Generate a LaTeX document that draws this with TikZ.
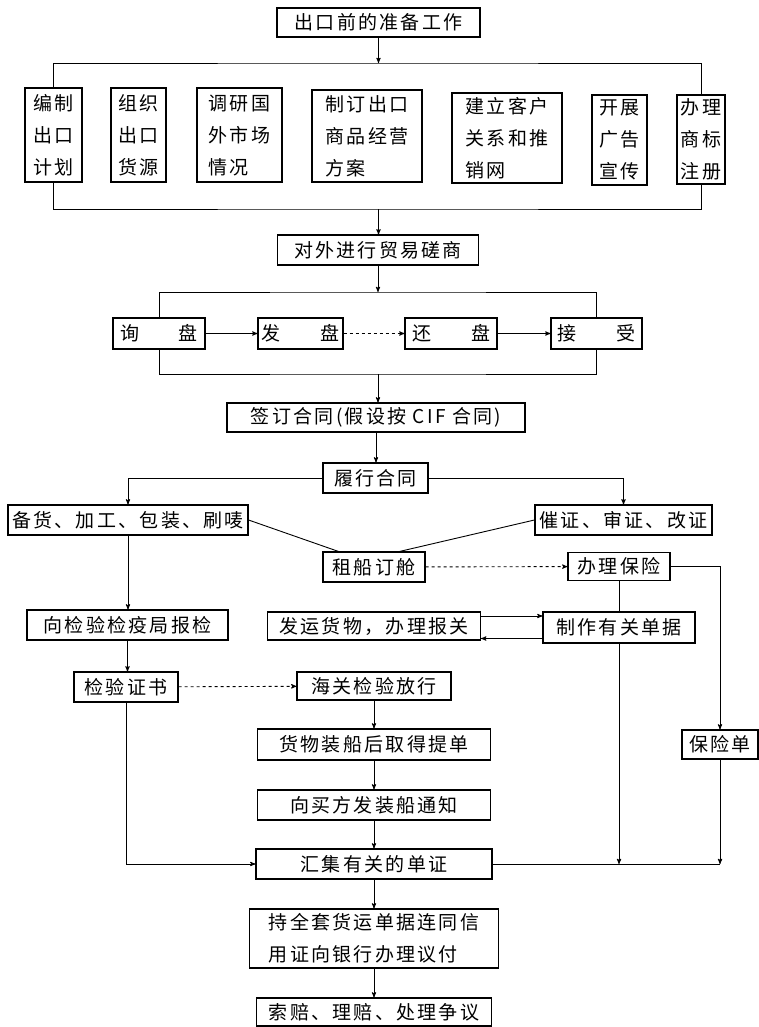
\documentclass[tikz,border=0pt]{standalone}
\usepackage{fontspec}
\usepackage{tikz}
\usetikzlibrary{arrows}
\newfontfamily\cjk[LetterSpace=12]{Noto Sans CJK SC}

\tikzset{
  stage/.style={draw, line width=1.1pt, inner sep=0pt,
    font=\cjk\fontsize{19}{32}\selectfont},
  multi/.style={stage, align=left},
  link/.style={line width=0.9pt},
  flow/.style={link, ->, >=stealth'},
}

\begin{document}
\begin{tikzpicture}[x=1pt, y=1pt]
\useasboundingbox (0,0) rectangle (759,-1027);

% Preparation before export
\node[stage, minimum width=203pt, minimum height=29pt] (prep) at (378.5,-22.5) {出口前的准备工作};
\node[multi, minimum width=57pt, minimum height=94pt] (plan) at (53.5,-135) {编制\\出口\\计划};
\node[multi, minimum width=55pt, minimum height=94pt] (supply) at (138.5,-135) {组织\\出口\\货源};
\node[multi, minimum width=85pt, minimum height=94pt] (survey) at (239.5,-135) {调研国\\外市场\\情况};
\node[multi, minimum width=110pt, minimum height=92pt] (scheme) at (367,-136) {制订出口\\商品经营\\方案};
\node[multi, minimum width=110pt, minimum height=90pt] (network) at (507,-138) {建立客户\\关系和推\\销网};
\node[multi, minimum width=55pt, minimum height=90pt] (advert) at (619.5,-140) {开展\\广告\\宣传};
\node[multi, minimum width=48pt, minimum height=89pt] (brand) at (701,-139.5) {办理\\商标\\注册};

\coordinate (topbar) at (378.5,-63);
\coordinate (midbar) at (378.5,-209);
\draw[flow] (prep) -- (topbar);
\draw[link] (plan.north) |- (topbar) -| (brand.north);
\draw[link] (plan.south) |- (midbar) -| (brand.south);

% Negotiation
\node[stage, minimum width=201pt, minimum height=30pt] (trade) at (378,-250) {对外进行贸易磋商};
\draw[flow] (midbar) -- (midbar |- trade.north);

\node[stage, minimum width=92pt, minimum height=31pt] (inquiry) at (159,-333.5) {询\hspace{40pt}盘};
\node[stage, minimum width=85pt, minimum height=31pt] (offer) at (300.5,-333.5) {发\hspace{40pt}盘};
\node[stage, minimum width=92pt, minimum height=31pt] (counter) at (451,-333.5) {还\hspace{40pt}盘};
\node[stage, minimum width=91pt, minimum height=31pt] (accept) at (596.5,-333.5) {接\hspace{40pt}受};

\coordinate (negbar) at (378,-292);
\coordinate (dealbar) at (378,-374);
\draw[flow] (trade) -- (negbar);
\draw[link] (inquiry.north) |- (negbar) -| (accept.north);
\draw[flow] (inquiry) -- (offer);
\draw[flow, dashed] (offer) -- (counter);
\draw[flow] (counter) -- (accept);
\draw[link] (inquiry.south) |- (dealbar) -| (accept.south);

\node[stage, minimum width=298pt, minimum height=29pt] (contract) at (376,-417.5) {签订合同(假设按 CIF 合同)};
\draw[flow] (dealbar) -- (dealbar |- contract.north);

% Performing the contract
\node[stage, minimum width=105pt, minimum height=30pt] (perform) at (375.5,-478) {履行合同};
\draw[flow] (contract.south) -- (contract.south |- perform.north);

\node[stage, minimum width=240pt, minimum height=30pt] (prepare) at (128,-520) {备货、加工、包装、刷唛};
\node[stage, minimum width=177pt, minimum height=30pt] (credit) at (623.5,-520) {催证、审证、改证};
\draw[flow] (perform.west) -| (prepare.north);
\draw[flow] (perform.east) -| (credit.north);

\node[stage, minimum width=102pt, minimum height=30pt] (ship) at (374,-567) {租船订舱};
\node[stage, minimum width=102pt, minimum height=28pt] (insure) at (619,-566.5) {办理保险};
\draw[link] (prepare.east) -- ([xshift=16pt]ship.north west);
\draw[link] (credit.west) -- ([xshift=-26pt]ship.north east);
\draw[flow, dashed] (ship) -- (insure);

\node[stage, minimum width=201pt, minimum height=30pt] (inspect) at (127.5,-625) {向检验检疫局报检};
\node[stage, minimum width=213pt, minimum height=28pt] (dispatch) at (374,-626) {发运货物，办理报关};
\node[stage, minimum width=152pt, minimum height=31pt] (docs) at (619,-627.5) {制作有关单据};
\draw[flow] (prepare.south) -- (prepare.south |- inspect.north);
\draw[link] (insure) -- (docs);
\draw[flow] ([yshift=10pt]dispatch.east) -- ([yshift=10pt]dispatch.east -| docs.west);
\draw[flow] ([yshift=-11pt]docs.west) -- ([yshift=-11pt]docs.west -| dispatch.east);

\node[stage, minimum width=104pt, minimum height=30pt] (cert) at (126,-687) {检验证书};
\node[stage, minimum width=154pt, minimum height=28pt] (customs) at (374,-686) {海关检验放行};
\draw[flow] (inspect.south) -- (inspect.south |- cert.north);
\draw[flow, dashed] (cert) -- (customs);

\node[stage, minimum width=233pt, minimum height=31pt] (bl) at (374,-744.5) {货物装船后取得提单};
\node[stage, minimum width=76pt, minimum height=29pt] (policy) at (720,-744.5) {保险单};
\node[stage, minimum width=233pt, minimum height=30pt] (notice) at (374,-805) {向买方发装船通知};
\draw[flow] (customs) -- (bl);
\draw[flow] (bl) -- (notice);
\draw[flow] (insure.east) -| (policy.north);

% Settlement
\node[stage, minimum width=236pt, minimum height=30pt] (collect) at (374,-864) {汇集有关的单证};
\node[multi, minimum width=249pt, minimum height=59pt] (negotiate) at (374,-938.5) {持全套货运单据连同信\\用证向银行办理议付};
\node[stage, minimum width=235pt, minimum height=28pt] (claim) at (374,-1012) {索赔、理赔、处理争议};
\draw[flow] (notice) -- (collect);
\draw[flow] (cert.south) |- (collect.west);
\draw[flow] (docs.south) -- (docs.south |- collect.east);
\draw[flow] (policy.south) -- (policy.south |- collect.east);
\draw[link] (collect.east) -- (policy.south |- collect.east);
\draw[flow] (collect) -- (negotiate);
\draw[flow] (negotiate) -- (claim);
\end{tikzpicture}
\end{document}
